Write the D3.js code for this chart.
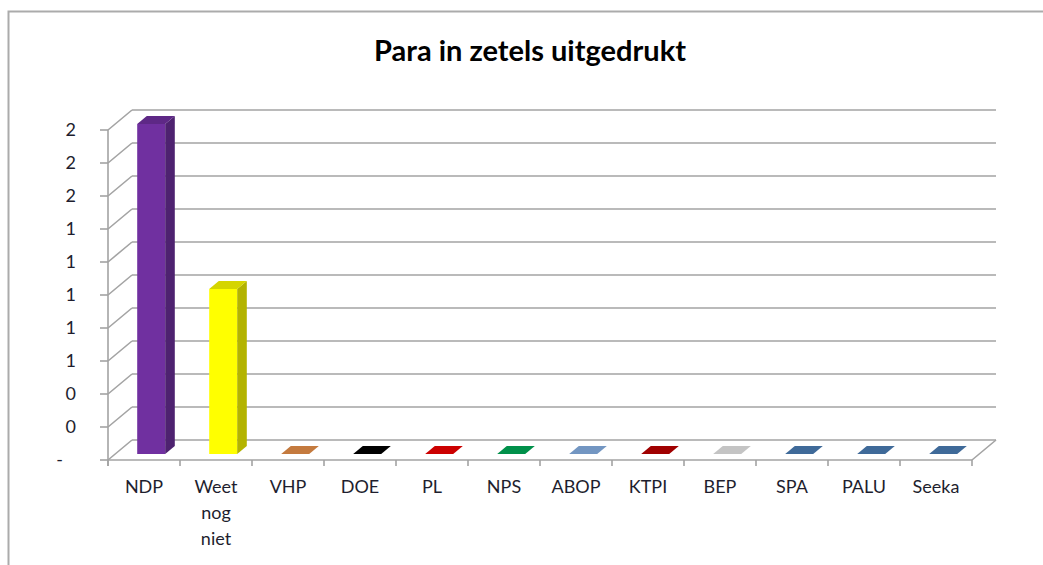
<!DOCTYPE html>
<html>
<head>
<meta charset="utf-8">
<script src="https://cdn.jsdelivr.net/npm/d3@7"></script>
<style>
  html, body { margin: 0; padding: 0; background: #fff; }
  svg { display: block; }
</style>
</head>
<body>
<svg id="chart" width="1043" height="565"></svg>
<script>
// ---- data ----
const title = "Para in zetels uitgedrukt";
const categories = ["NDP", "Weet nog niet", "VHP", "DOE", "PL", "NPS", "ABOP", "KTPI", "BEP", "SPA", "PALU", "Seeka"];
const values = [2, 1, 0, 0, 0, 0, 0, 0, 0, 0, 0, 0];
const barColors = ["#7030A0", "#FFFF00", "#C47A3E", "#000000", "#CC0000", "#00904A", "#7396C2", "#A00000", "#C4C4C4", "#3F6A99", "#3F6A99", "#3F6A99"];
const tickValues = [0, 0.2, 0.4, 0.6, 0.8, 1.0, 1.2, 1.4, 1.6, 1.8, 2.0];
const tickLabels = ["-", "0", "0", "1", "1", "1", "1", "1", "2", "2", "2"];

// ---- layout ----
const svg = d3.select("#chart");
const x0 = 108, x1 = 972, yBottom = 460, yTop = 130;
const depthX = 24, depthY = -20;      // 3D depth offset of the back wall
const barF0 = 0.3, barF1 = 0.7;        // bar depth position as fraction of depth
const gridColor = "#a3a3a3";
const textColor = "#1e1e2e";
const fontFam = "Lato, 'Open Sans', sans-serif";

const x = d3.scaleBand().domain(categories).range([x0, x1]).padding(0);
const xb = d3.scaleBand().domain(categories).range([x0, x1]).paddingInner(0.611).paddingOuter(0.3055);
const y = d3.scaleLinear().domain([0, 2]).range([yBottom, yTop]);

// outer border (only top and left visible)
svg.append("path")
  .attr("d", `M8.5,565 L8.5,11.5 L1043,11.5`)
  .attr("fill", "none").attr("stroke", "#ababab").attr("stroke-width", 2);

// title
svg.append("text")
  .attr("x", 530).attr("y", 61)
  .attr("text-anchor", "middle")
  .attr("font-family", fontFam)
  .attr("font-weight", "bold")
  .attr("font-size", 29)
  .attr("fill", "#000")
  .text(title);

// grid: back wall lines and left wall diagonals
const grid = svg.append("g").attr("fill", "none").attr("stroke", gridColor).attr("stroke-width", 1.6);
tickValues.forEach(v => {
  grid.append("line")
    .attr("x1", x0 + depthX).attr("y1", y(v) + depthY)
    .attr("x2", x1 + depthX).attr("y2", y(v) + depthY);
  grid.append("line")
    .attr("x1", x0).attr("y1", y(v))
    .attr("x2", x0 + depthX).attr("y2", y(v) + depthY);
});
// floor front edge and right edge
grid.append("line").attr("x1", x0).attr("y1", y(0)).attr("x2", x1).attr("y2", y(0));
grid.append("line").attr("x1", x1).attr("y1", y(0)).attr("x2", x1 + depthX).attr("y2", y(0) + depthY);

// bars (3D boxes)
const bars = svg.append("g");
categories.forEach((c, i) => {
  const v = values[i];
  const col = d3.color(barColors[i]);
  const bx = xb(c), bw = xb.bandwidth();
  const fx = depthX * barF0, fy = depthY * barF0;
  const bkx = depthX * barF1, bky = depthY * barF1;
  const yb = y(0), yt = y(v);
  const g = bars.append("g");
  if (v > 0) {
    g.append("path")
      .attr("d", `M${bx + fx},${yb + fy} L${bx + bw + fx},${yb + fy} L${bx + bw + fx},${yt + fy} L${bx + fx},${yt + fy} Z`)
      .attr("fill", col.formatHex());
    g.append("path")
      .attr("d", `M${bx + bw + fx},${yb + fy} L${bx + bw + bkx},${yb + bky} L${bx + bw + bkx},${yt + bky} L${bx + bw + fx},${yt + fy} Z`)
      .attr("fill", col.darker(1).formatHex());
  }
  g.append("path")
    .attr("d", `M${bx + fx},${yt + fy} L${bx + bw + fx},${yt + fy} L${bx + bw + bkx},${yt + bky} L${bx + bkx},${yt + bky} Z`)
    .attr("fill", v > 0 ? col.darker(0.5).formatHex() : col.formatHex());
});

// y axis line and ticks
const axisG = svg.append("g").attr("stroke", gridColor).attr("stroke-width", 1.6);
axisG.append("line").attr("x1", x0).attr("y1", y(2)).attr("x2", x0).attr("y2", y(0) + 6);
tickValues.forEach(v => {
  axisG.append("line").attr("x1", x0 - 8).attr("y1", y(v)).attr("x2", x0).attr("y2", y(v));
});
d3.range(categories.length + 1).forEach(i => {
  const tx = x0 + i * x.step();
  axisG.append("line").attr("x1", tx).attr("y1", y(0)).attr("x2", tx).attr("y2", y(0) + 6);
});

// y tick labels
svg.append("g")
  .attr("font-family", fontFam).attr("font-size", 18).attr("fill", textColor)
  .selectAll("text").data(tickValues).join("text")
  .attr("x", (d, i) => tickLabels[i] === "-" ? 63 : 76)
  .attr("y", d => y(d))
  .attr("dy", "0.36em")
  .attr("text-anchor", "end")
  .text((d, i) => tickLabels[i]);

// category labels
const catG = svg.append("g")
  .attr("font-family", fontFam).attr("font-size", 18).attr("fill", textColor)
  .attr("text-anchor", "middle");
categories.forEach(c => {
  const words = c.split(" ");
  const t = catG.append("text").attr("x", x(c) + x.bandwidth() / 2).attr("y", 493);
  words.forEach((w, k) => {
    t.append("tspan").attr("x", x(c) + x.bandwidth() / 2).attr("dy", k === 0 ? 0 : 26).text(w);
  });
});
</script>
</body>
</html>
